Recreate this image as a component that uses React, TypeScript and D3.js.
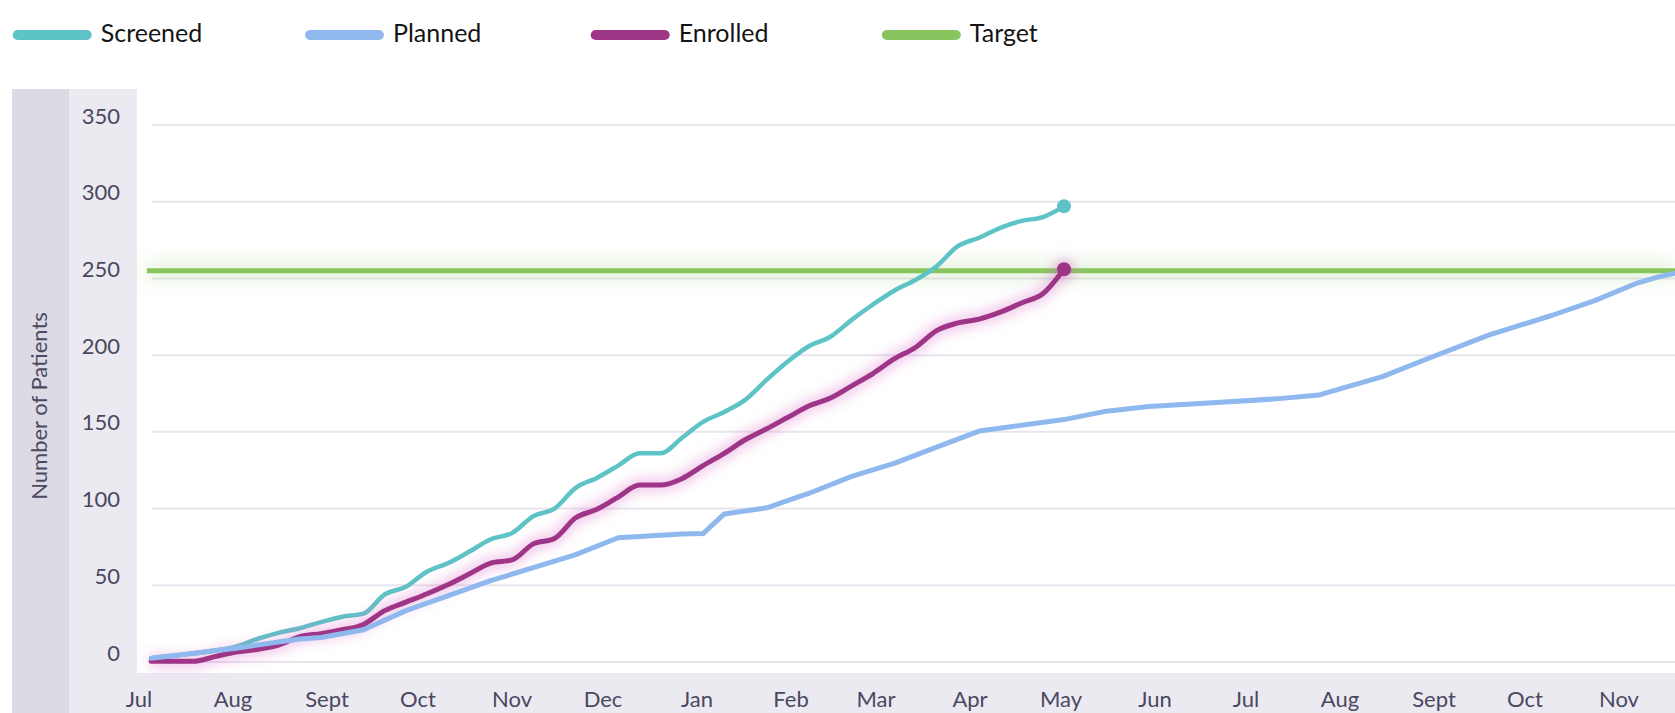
import React from 'react';
import * as d3 from 'd3';

// weekly cumulative counts, first week starting 2021-07-05
const weekStart = '2021-07-05';

const screened = [
  2.5, 4, 5.5, 7.5, 10, 15, 19, 22, 26, 29.5, 31.5, 44, 49, 59, 64.5, 72, 80, 84, 95, 100,
  113.5, 120, 128, 136, 136, 146, 156.5, 163, 171, 184, 196, 206, 212, 223, 233, 242, 249, 258,
  271, 276.5, 283, 287.5, 290, 297,
];

const enrolled = [
  0.5, 0.5, 0.5, 3.5, 6.5, 8.2, 11, 16.5, 18.5, 21, 24.5, 33.5, 39, 44.5, 50.5, 57.5, 64.5, 66.5,
  77, 80.5, 94, 99.5, 107.5, 115.3, 115.3, 119.5, 128, 136, 145, 152, 159.5, 167, 172, 180, 188,
  197.5, 205, 216, 221, 223.5, 228, 234, 240, 256,
];

// planned curve: week index -> value
const plannedWeeks = [
  0, 4, 7, 8, 10, 12, 16, 20, 22, 25, 26, 27, 29, 31, 33, 35, 37, 39, 43, 45, 47, 50, 53, 55, 56,
  58, 60, 63, 66, 68, 70, 71, 72,
];
const plannedValues = [
  2.5, 9, 15, 16, 21, 33.5, 53, 70, 81, 83.5, 83.7, 96.5, 100.5, 110, 121, 129.5, 140, 150.5, 158,
  163.5, 166.5, 169, 171.5, 174, 178, 186, 197, 213, 226, 235.5, 247, 251, 254,
];

const targetValue = 255;

const yTicks = [0, 50, 100, 150, 200, 250, 300, 350];
const monthNames = ['Jan', 'Feb', 'Mar', 'Apr', 'May', 'Jun', 'Jul', 'Aug', 'Sept', 'Oct', 'Nov', 'Dec'];

const legendItems = [
  { label: 'Screened', color: '#5ec3c6' },
  { label: 'Planned', color: '#8fb8ee' },
  { label: 'Enrolled', color: '#9e3586' },
  { label: 'Target', color: '#88c55f' },
];
const legendX = [12.7, 305, 590.7, 881.8];

const W = 1675;
const H = 713;
const FONT = 'Lato, "Open Sans", sans-serif';

export default function App() {
  const parse = d3.timeParse('%Y-%m-%d');
  const start = parse(weekStart) as Date;
  const weekDate = (i: number) => d3.timeDay.offset(start, i * 7);

  const x = d3
    .scaleTime()
    .domain([parse('2021-07-01') as Date, parse('2022-11-01') as Date])
    .range([139, 1619]);
  const y = d3.scaleLinear().domain([0, 350]).range([662, 125]);

  const smooth = d3
    .line<[Date, number]>()
    .x((d) => x(d[0]))
    .y((d) => y(d[1]))
    .curve(d3.curveMonotoneX);
  const straight = d3
    .line<[Date, number]>()
    .x((d) => x(d[0]))
    .y((d) => y(d[1]));

  const screenedPts = screened.map((v, i) => [weekDate(i), v] as [Date, number]);
  const enrolledPts = enrolled.map((v, i) => [weekDate(i), v] as [Date, number]);
  const plannedPts = plannedWeeks.map((w, i) => [weekDate(w), plannedValues[i]] as [Date, number]);

  const monthTicks = x.ticks(d3.timeMonth.every(1) as d3.TimeInterval);
  const lastS = screenedPts[screenedPts.length - 1];
  const lastE = enrolledPts[enrolledPts.length - 1];

  return (
    <div style={{ position: 'absolute', left: 0, top: 0, width: W, height: H, overflow: 'hidden' }}>
      <svg width={W} height={H} style={{ display: 'block', background: '#fff' }}>
        <defs>
          <filter id="glowE" filterUnits="userSpaceOnUse" x={0} y={0} width={W} height={H}>
            <feGaussianBlur in="SourceAlpha" stdDeviation="7" result="b" />
            <feFlood floodColor="#d860c6" floodOpacity="0.9" />
            <feComposite in2="b" operator="in" result="g" />
            <feMerge>
              <feMergeNode in="g" />
              <feMergeNode in="SourceGraphic" />
            </feMerge>
          </filter>
          <filter id="glowT" filterUnits="userSpaceOnUse" x={0} y={0} width={W} height={H}>
            <feGaussianBlur in="SourceAlpha" stdDeviation="10" result="b" />
            <feFlood floodColor="#88c55f" floodOpacity="0.8" />
            <feComposite in2="b" operator="in" result="g" />
            <feMerge>
              <feMergeNode in="g" />
              <feMergeNode in="SourceGraphic" />
            </feMerge>
          </filter>
        </defs>

        {/* legend */}
        {legendItems.map((d, i) => (
          <g key={d.label} transform={`translate(${legendX[i]},0)`}>
            <line x1={5} x2={74} y1={35} y2={35} stroke={d.color} strokeWidth={10} strokeLinecap="round" />
            <text x={88} y={42} fontFamily={FONT} fontSize={25} fill="#141414">
              {d.label}
            </text>
          </g>
        ))}

        {/* axis bands */}
        <rect x={12} y={89} width={57} height={H - 89} fill="#dcdbe5" />
        <rect x={69} y={89} width={W - 69} height={H - 89} fill="#ebeaf1" />
        <rect x={137} y={89} width={W - 137} height={673 - 89} fill="#ffffff" />

        {/* gridlines */}
        {yTicks.map((t) => (
          <line key={t} x1={152} x2={W} y1={y(t)} y2={y(t)} stroke="#e7e6ee" strokeWidth={2} />
        ))}

        {/* y tick labels */}
        {yTicks.map((t) => (
          <text
            key={t}
            x={120}
            y={y(t) - 7}
            textAnchor="end"
            dominantBaseline="middle"
            fontFamily={FONT}
            fontSize={22}
            fill="#4a4860"
          >
            {t}
          </text>
        ))}

        <text
          transform="translate(41,406) rotate(-90)"
          textAnchor="middle"
          dominantBaseline="middle"
          fontFamily={FONT}
          fontSize={22}
          fill="#4d4a60"
        >
          Number of Patients
        </text>

        {/* x tick labels */}
        {monthTicks.map((m) => (
          <text
            key={m.toISOString()}
            x={x(m)}
            y={701}
            textAnchor="middle"
            dominantBaseline="middle"
            fontFamily={FONT}
            fontSize={22}
            fill="#4a4860"
          >
            {monthNames[m.getMonth()]}
          </text>
        ))}

        {/* target */}
        <line
          x1={147}
          x2={W}
          y1={y(targetValue)}
          y2={y(targetValue)}
          stroke="#88c55f"
          strokeWidth={5}
          filter="url(#glowT)"
        />

        {/* screened */}
        <path d={smooth(screenedPts) || ''} fill="none" stroke="#5ec3c6" strokeWidth={4.5} strokeLinejoin="round" strokeLinecap="round" />
        <circle cx={x(lastS[0])} cy={y(lastS[1])} r={7} fill="#5ec3c6" />

        {/* enrolled */}
        <g filter="url(#glowE)">
          <path d={smooth(enrolledPts) || ''} fill="none" stroke="#9e3586" strokeWidth={5} strokeLinejoin="round" strokeLinecap="round" />
          <circle cx={x(lastE[0])} cy={y(lastE[1])} r={7} fill="#9e3586" />
        </g>

        {/* planned */}
        <path d={straight(plannedPts) || ''} fill="none" stroke="#8fb8ee" strokeWidth={5} strokeLinejoin="round" strokeLinecap="round" />
      </svg>
    </div>
  );
}
